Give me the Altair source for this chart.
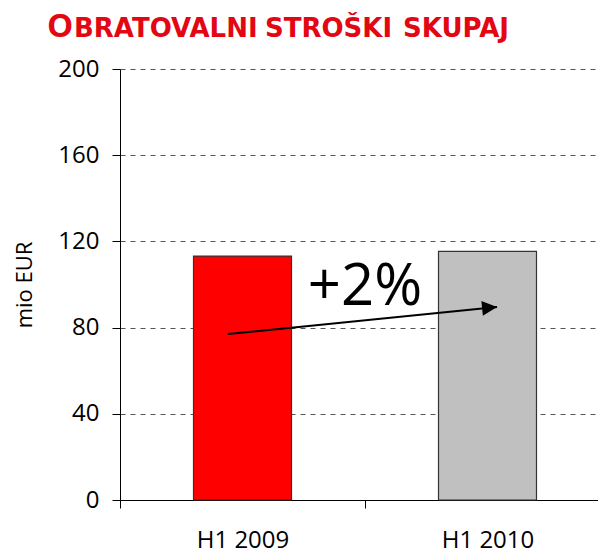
import altair as alt
import pandas as pd

categories = ["H1 2009", "H1 2010"]
values = [113.2, 115.4]
bar_colors = ["#FF0000", "#C0C0C0"]

arrow_x = [0.44, 1.539]
arrow_y = [77.0, 89.6]
change_label = "+2%"

title_parts = ["O", "BRATOVALNI", "STROŠKI", "SKUPAJ"]
title_sizes = [33, 26, 26, 26]
title_fonts = ["Open Sans", "DejaVu Sans", "DejaVu Sans", "DejaVu Sans"]
title_x = [-73, -46, 145, 283]

FONT = "Open Sans"
RED = "#E30613"
XR = [0, 490]

bars_df = pd.DataFrame({"cat": categories, "val": values})

bars = alt.Chart(bars_df).mark_bar(size=98, stroke="#333333", strokeWidth=1.2).encode(
    x=alt.X("cat:N", sort=categories, title=None,
            scale=alt.Scale(range=XR, paddingInner=0, paddingOuter=0),
            axis=alt.Axis(tickBand="extent", labelAngle=0, labelFontSize=24, labelFont=FONT,
                          labelColor="black", labelPadding=20, tickSize=8, tickColor="black",
                          domainColor="black", grid=False)),
    y=alt.Y("val:Q", title="mio EUR",
            scale=alt.Scale(domain=[0, 200], nice=False),
            axis=alt.Axis(values=[0, 40, 80, 120, 160, 200], labelFontSize=24, labelFont=FONT,
                          labelColor="black", labelPadding=13, tickSize=8, tickColor="black",
                          domainColor="black", gridDash=[5, 5], gridColor="#555555",
                          titleFont=FONT, titleFontSize=22, titleFontWeight="normal",
                          titleColor="black", titlePadding=21)),
    color=alt.Color("cat:N", scale=alt.Scale(domain=categories, range=bar_colors), legend=None),
)

arrow_df = pd.DataFrame({"x": [arrow_x[0]], "x2": [arrow_x[1]], "y": [arrow_y[0]], "y2": [arrow_y[1]]})
xq = alt.Scale(domain=[0, 2], range=XR, nice=False, zero=False)
yq = alt.Scale(domain=[0, 200], nice=False)

line = alt.Chart(arrow_df).mark_rule(color="black", strokeWidth=2).encode(
    x=alt.X("x:Q", scale=xq, axis=None),
    x2="x2:Q",
    y=alt.Y("y:Q", scale=yq),
    y2="y2:Q",
)

head_df = pd.DataFrame({"x": [arrow_x[1]], "y": [arrow_y[1]]})
head = alt.Chart(head_df).mark_point(
    shape="M-1,-0.5L0,0L-1,0.5Z", size=900, filled=True, color="black", opacity=1, angle=354.3
).encode(
    x=alt.X("x:Q", scale=xq, axis=None),
    y=alt.Y("y:Q", scale=yq),
)

lab_df = pd.DataFrame({"x": [1.0], "y": [90.5], "t": [change_label]})
lab = alt.Chart(lab_df).mark_text(fontSize=58, font=FONT, color="black", baseline="alphabetic",
                                  align="center").encode(
    x=alt.X("x:Q", scale=xq, axis=None),
    y=alt.Y("y:Q", scale=yq),
    text="t:N",
)

title_layers = []
for t, s, f, px in zip(title_parts, title_sizes, title_fonts, title_x):
    title_layers.append(
        alt.Chart(pd.DataFrame({"t": [t]})).mark_text(
            fontSize=s, font=f, fontWeight="bold", color=RED, align="left", baseline="alphabetic"
        ).encode(x=alt.value(px), y=alt.value(-32), text="t:N")
    )

chart = alt.layer(bars, line, head, lab, *title_layers).resolve_scale(x="independent").properties(
    width=478, height=431,
    autosize=alt.AutoSizeParams(type="none"),
    padding={"left": 112, "top": 61, "right": 0, "bottom": 53},
).configure_view(stroke=None)

chart.save("out.html", embed_options={"renderer": "svg", "actions": False})
